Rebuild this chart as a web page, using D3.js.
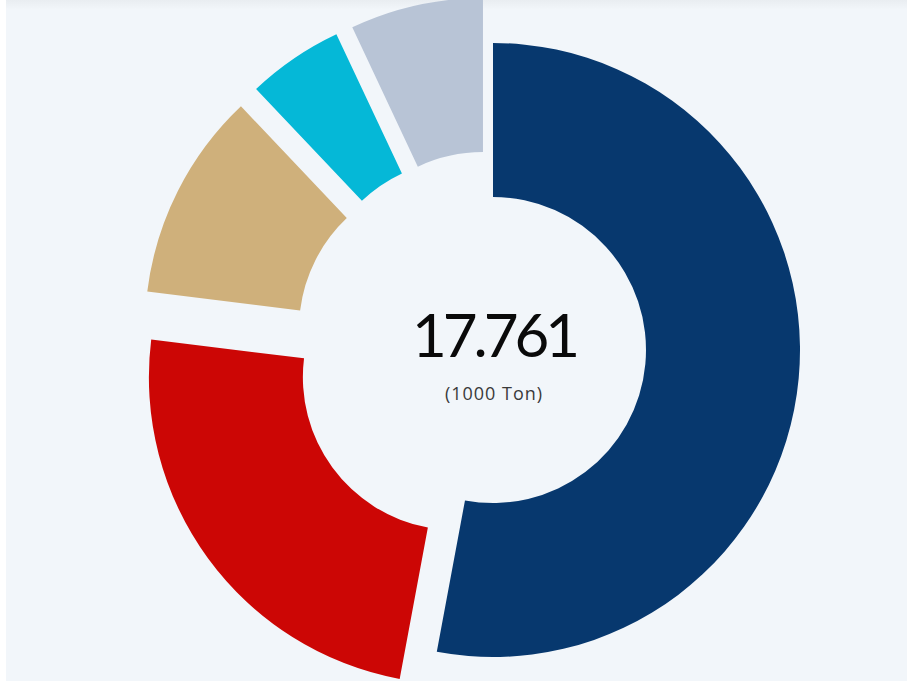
<!DOCTYPE html>
<html>
<head>
<meta charset="utf-8">
<script src="https://cdn.jsdelivr.net/npm/d3@7"></script>
<style>
html,body{margin:0;padding:0;background:#ffffff;}
svg{display:block;}
</style>
</head>
<body>
<svg id="chart" width="907" height="686"></svg>
<script>
const categories = ["A", "B", "C", "D", "E"];
const values = [9.401, 4.268, 1.950, 0.899, 1.243];
const colors = ["#07386e", "#cc0605", "#cfb07b", "#05b8d7", "#b8c4d6"];
const totalLabel = "17.761";
const unitLabel = "(1000 Ton)";

const W = 907, H = 686;
const svg = d3.select("#chart");
const defs = svg.append("defs");
const grad = defs.append("linearGradient").attr("id", "bg").attr("x1", 0).attr("y1", 0).attr("x2", 0).attr("y2", 1);
grad.append("stop").attr("offset", "0").attr("stop-color", "#e9edf1");
grad.append("stop").attr("offset", "0.014").attr("stop-color", "#f2f6fa");
grad.append("stop").attr("offset", "1").attr("stop-color", "#f2f6fa");

svg.append("rect").attr("x", 6).attr("y", 0).attr("width", W - 6).attr("height", 681).attr("fill", "url(#bg)");

const cx = 493, cy = 350;
const outerR = 307, innerR = 153;
const explode = 46;

const pie = d3.pie().sort(null).value(d => d.v);
const arcs = pie(categories.map((c, i) => ({c, v: values[i], i})));
const arc = d3.arc().innerRadius(innerR).outerRadius(outerR);

const g = svg.append("g").attr("transform", `translate(${cx},${cy})`);
g.selectAll("path").data(arcs).join("path")
  .attr("d", arc)
  .attr("fill", d => colors[d.data.i])
  .attr("transform", d => {
    if (d.data.i === 0) return null;
    const a = (d.startAngle + d.endAngle) / 2;
    return `translate(${explode * Math.sin(a)},${-explode * Math.cos(a)})`;
  });

svg.append("text").attr("x", 494).attr("y", 357)
  .attr("text-anchor", "middle")
  .attr("font-family", "Lato, 'Open Sans', sans-serif")
  .attr("font-size", 60).attr("font-weight", 400).attr("letter-spacing", "-4px")
  .attr("fill", "#0a0a0a")
  .text(totalLabel);

svg.append("text").attr("x", 494).attr("y", 400)
  .attr("text-anchor", "middle")
  .attr("font-family", "'Open Sans', Lato, sans-serif")
  .attr("font-size", 18).attr("letter-spacing", "1px")
  .attr("fill", "#3a3a3a")
  .text(unitLabel);
</script>
</body>
</html>
